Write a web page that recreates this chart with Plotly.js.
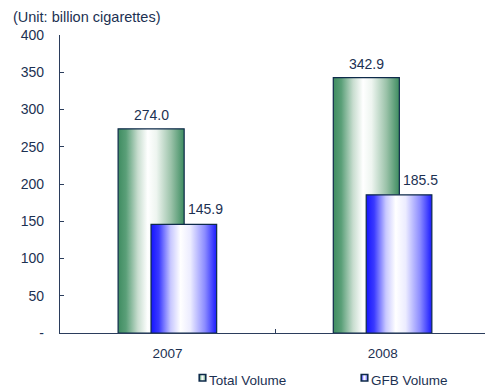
<!DOCTYPE html>
<html>
<head>
<meta charset="utf-8">
<script src="https://cdn.plot.ly/plotly-3.0.1.min.js"></script>
<style>
html,body{margin:0;padding:0;background:#fff;}
#chart{width:485px;height:388px;}
</style>
</head>
<body>
<div id="chart"></div>
<script>
var years = ["2007", "2008"];
var totalVolume = [274.0, 342.9];
var gfbVolume = [145.9, 185.5];
var seriesNames = ["Total Volume", "GFB Volume"];
var yTickVals = [0, 50, 100, 150, 200, 250, 300, 350, 400];
var yTickText = ["-", "50", "100", "150", "200", "250", "300", "350", "400"];
var unitTitle = "(Unit: billion cigarettes)";

var navy = "#1c3152";
var FONT = "Liberation Sans, Arial, sans-serif";

var traces = [
  {
    type: "bar", name: seriesNames[0], x: years, y: totalVolume,
    offset: -0.23, width: 0.307,
    marker: {color: "#4a9468", line: {color: "#0e2a4a", width: 1.2}},
    hoverinfo: "none"
  },
  {
    type: "bar", name: seriesNames[1], x: years, y: gfbVolume,
    offset: -0.077, width: 0.305,
    marker: {color: "#2a2aff", line: {color: "#0e2a4a", width: 1.2}},
    hoverinfo: "none"
  }
];

var annotations = [{
  xref: "paper", yref: "paper", x: -0.115, y: 1.06, xanchor: "left", yanchor: "middle",
  text: unitTitle, showarrow: false, font: {family: FONT, size: 14.5, color: navy}
}];
years.forEach(function (yr, i) {
  annotations.push({
    xref: "x", yref: "y", x: i - 0.077, y: totalVolume[i], yanchor: "middle", yshift: 14,
    text: totalVolume[i].toFixed(1), showarrow: false,
    font: {family: FONT, size: 14, color: navy}
  });
  annotations.push({
    xref: "x", yref: "y", x: i + 0.177, y: gfbVolume[i], yanchor: "middle", yshift: 15,
    text: gfbVolume[i].toFixed(1), showarrow: false,
    font: {family: FONT, size: 14, color: navy}
  });
});

var layout = {
  width: 485, height: 388,
  margin: {l: 60, r: 0, t: 35, b: 55, pad: 0},
  paper_bgcolor: "#ffffff", plot_bgcolor: "#ffffff",
  barmode: "overlay",
  showlegend: true,
  font: {family: FONT, size: 13, color: navy},
  xaxis: {
    type: "category", range: [-0.5, 1.475],
    showline: true, linecolor: "#2b3d5c", linewidth: 1.2,
    ticks: "inside", tickson: "boundaries", ticklen: 4, tickcolor: "#2b3d5c",
    showgrid: false, zeroline: false, ticklabelstandoff: 8,
    tickfont: {family: FONT, size: 13.5, color: navy}
  },
  yaxis: {
    range: [0, 400], tickvals: yTickVals, ticktext: yTickText,
    showline: true, linecolor: "#2b3d5c", linewidth: 1.2,
    ticks: "inside", ticklen: 4, tickcolor: "#2b3d5c",
    showgrid: false, zeroline: false, ticklabelstandoff: 12,
    tickfont: {family: FONT, size: 14, color: navy}
  },
  legend: {
    orientation: "h", xref: "container", yref: "container",
    x: 169 / 485, xanchor: "left", y: 8 / 388, yanchor: "middle",
    font: {family: FONT, size: 13.5, color: navy},
    itemwidth: 30, entrywidth: 117, traceorder: "normal",
    bgcolor: "rgba(0,0,0,0)"
  },
  annotations: annotations
};

function addGradients() {
  var svg = document.querySelector("#chart .main-svg");
  if (!svg) return;
  var ns = "http://www.w3.org/2000/svg";
  var defs = svg.querySelector("defs");
  if (!defs) { defs = document.createElementNS(ns, "defs"); svg.insertBefore(defs, svg.firstChild); }
  function grad(id, stops) {
    if (document.getElementById(id)) return;
    var g = document.createElementNS(ns, "linearGradient");
    g.setAttribute("id", id);
    g.setAttribute("x1", "0"); g.setAttribute("y1", "0");
    g.setAttribute("x2", "1"); g.setAttribute("y2", "0");
    stops.forEach(function (s) {
      var st = document.createElementNS(ns, "stop");
      st.setAttribute("offset", s[0]);
      st.setAttribute("stop-color", s[1]);
      g.appendChild(st);
    });
    defs.appendChild(g);
  }
  grad("gradGreen", [[0, "#3f8c61"], [0.12, "#5a9f78"], [0.3, "#c8ddcf"], [0.45, "#ffffff"], [0.58, "#eef5f0"], [0.8, "#9cc3aa"], [1, "#3d8c60"]]);
  grad("gradBlue", [[0, "#1414ff"], [0.12, "#3a3aff"], [0.3, "#c8c8ff"], [0.45, "#ffffff"], [0.6, "#ececff"], [0.82, "#8c8cff"], [1, "#1a1aff"]]);
  var ids = ["gradGreen", "gradBlue"];
  var traceGroups = svg.querySelectorAll(".barlayer .trace");
  traceGroups.forEach(function (tg, i) {
    tg.querySelectorAll("path").forEach(function (p) { p.style.fill = "url(#" + ids[i] + ")"; p.style.fillOpacity = 1; });
  });
  var legs = document.querySelectorAll("#chart .legend .traces");
  legs.forEach(function (lg, i) {
    lg.querySelectorAll(".legendpoints path").forEach(function (p) {
      p.style.fill = "url(#" + ids[i % 2] + ")";
      p.setAttribute("transform", "translate(33.5,-2) scale(0.55)");
      p.style.strokeWidth = "2.8px";
    });
  });
}

Plotly.newPlot("chart", traces, layout, {staticPlot: true, displayModeBar: false}).then(function (gd) {
  addGradients();
  gd.on("plotly_afterplot", addGradients);
  setTimeout(addGradients, 0);
  setTimeout(addGradients, 50);
  setTimeout(addGradients, 200);
});
</script>
</body>
</html>
